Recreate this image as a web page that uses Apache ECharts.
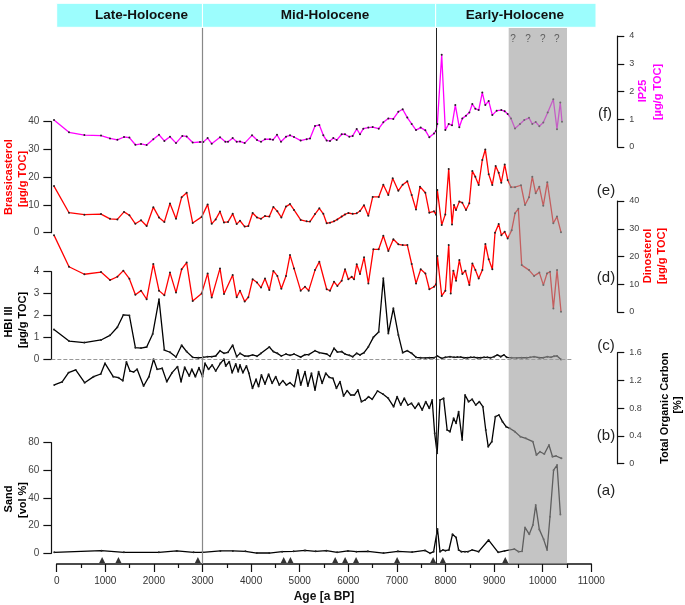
<!DOCTYPE html>
<html><head><meta charset="utf-8">
<script src="https://cdn.jsdelivr.net/npm/echarts@6/dist/echarts.min.js"></script>
<style>html,body{margin:0;padding:0;background:#fff}#c{width:685px;height:605px}</style>
</head><body><div id="c"></div>
<script>
// ---------- DATA (age [a BP], value) ----------
const periodNames = ['Late-Holocene', 'Mid-Holocene', 'Early-Holocene'];
const periodBounds = [0, 3000, 7800, 11100];
const uncertainRange = [9300, 10500];
const questionAges = [9390, 9700, 10000, 10290];
const datingAges = [935, 1270, 2905, 4670, 4810, 5730, 5935, 6160, 7005, 7745, 7945, 9230];
const xTicks = [0, 11000, 1000];

const ip25 = [[-56,0.97],[253,0.53],[569,0.43],[912,0.41],[1097,0.31],[1248,0.26],[1385,0.36],[1495,0.34],[1619,0.08],[1735,0.11],[1851,0.07],[1988,0.28],[2105,0.44],[2215,0.22],[2331,0.37],[2455,0.14],[2585,0.40],[2674,0.38],[2798,0.16],[2949,0.18],[3017,0.18],[3106,0.32],[3189,0.12],[3360,0.35],[3470,0.19],[3525,0.19],[3621,0.32],[3703,0.19],[3772,0.20],[3868,0.14],[4019,0.42],[4122,0.25],[4204,0.19],[4286,0.28],[4389,0.28],[4451,0.26],[4533,0.44],[4615,0.19],[4718,0.37],[4801,0.42],[4883,0.36],[5020,0.23],[5144,0.28],[5212,0.31],[5315,0.76],[5404,0.79],[5486,0.42],[5555,0.23],[5624,0.22],[5692,0.32],[5761,0.25],[5864,0.46],[5932,0.46],[6021,0.37],[6090,0.40],[6173,0.65],[6241,0.46],[6309,0.66],[6412,0.70],[6502,0.72],[6626,0.66],[6721,0.89],[6823,1.03],[6926,1.01],[7029,1.27],[7119,1.36],[7214,1.06],[7304,0.83],[7393,0.61],[7489,0.70],[7585,0.60],[7667,0.35],[7763,0.49],[7805,0.58],[7832,0.83],[7922,3.32],[7996,0.61],[8066,0.83],[8134,0.78],[8202,1.51],[8284,0.71],[8346,1.03],[8422,1.13],[8490,1.24],[8552,1.55],[8613,1.38],[8683,1.33],[8757,1.96],[8819,1.51],[8889,1.66],[8963,1.15],[9053,1.31],[9148,1.33],[9218,1.29],[9280,1.19],[9348,1.03],[9430,0.67],[9533,0.83],[9621,0.97],[9718,1.05],[9786,0.83],[9856,0.90],[9930,0.75],[10012,0.88],[10103,1.24],[10218,1.72],[10294,0.64],[10362,1.60],[10397,0.91]];

const brassicasterol = [[-56,16.8],[253,7.2],[569,6.5],[912,6.7],[1097,5.0],[1248,4.8],[1385,7.5],[1495,6.3],[1619,3.2],[1735,4.5],[1851,2.4],[1988,9.2],[2105,5.5],[2215,3.9],[2331,10.5],[2455,5.0],[2571,12.8],[2674,14.4],[2798,3.5],[2983,5.7],[3106,10.2],[3189,3.2],[3271,4.8],[3360,7.6],[3442,3.7],[3525,3.9],[3621,6.8],[3703,3.1],[3772,4.3],[3868,2.2],[3943,2.4],[4032,7.1],[4122,5.5],[4204,5.0],[4286,6.0],[4375,5.8],[4458,9.3],[4540,7.7],[4622,5.5],[4718,9.4],[4801,10.3],[4883,8.2],[5020,4.6],[5144,4.1],[5212,4.0],[5315,6.7],[5404,8.8],[5486,6.8],[5555,3.4],[5624,3.6],[5706,4.1],[5774,4.8],[5864,5.8],[5932,6.6],[6001,7.1],[6090,6.8],[6173,7.0],[6241,7.8],[6323,9.9],[6412,6.1],[6502,12.9],[6626,12.9],[6721,17.3],[6823,13.6],[6913,19.6],[7029,15.1],[7119,17.3],[7214,18.5],[7304,13.6],[7393,8.4],[7475,16.6],[7585,14.4],[7667,7.2],[7763,7.7],[7805,6.5],[7832,15.4],[7922,2.8],[7996,6.6],[8066,23.0],[8134,3.0],[8175,10.0],[8216,8.2],[8284,11.2],[8346,10.8],[8422,8.2],[8490,10.6],[8552,22.2],[8613,20.2],[8683,17.2],[8757,26.2],[8819,30.0],[8889,21.1],[8963,17.2],[9032,24.0],[9094,21.6],[9148,18.0],[9218,24.6],[9280,19.0],[9348,16.4],[9430,16.4],[9553,17.1],[9636,10.0],[9718,12.8],[9786,20.2],[9856,14.2],[9930,16.6],[10012,9.7],[10095,18.2],[10218,3.4],[10294,5.8],[10376,0.2]];

const dinosterol = [[-56,27.7],[253,16.3],[569,13.6],[912,14.4],[1097,11.5],[1248,12.7],[1371,14.9],[1495,12.0],[1619,6.2],[1735,7.7],[1851,4.6],[1988,17.3],[2105,7.7],[2215,6.0],[2331,14.2],[2455,7.0],[2571,15.4],[2674,17.8],[2798,4.0],[2983,6.7],[3106,13.9],[3189,5.2],[3360,15.7],[3442,6.5],[3621,13.3],[3703,5.3],[3772,7.7],[3868,3.8],[3943,5.3],[4032,11.8],[4122,10.6],[4204,8.8],[4286,12.1],[4375,7.9],[4458,14.8],[4540,13.0],[4622,8.4],[4718,13.0],[4801,20.5],[4883,15.7],[5020,7.7],[5109,9.1],[5185,7.7],[5315,15.1],[5404,18.1],[5555,8.2],[5624,7.7],[5706,10.9],[5775,9.4],[5864,11.3],[5933,15.4],[6001,11.8],[6070,12.7],[6118,11.8],[6173,17.2],[6241,13.7],[6324,19.7],[6413,10.3],[6516,22.6],[6625,22.6],[6721,27.5],[6824,22.0],[6927,26.2],[7030,24.4],[7119,24.1],[7215,24.1],[7304,17.3],[7394,10.3],[7490,15.4],[7586,13.9],[7668,8.2],[7764,9.1],[7805,10.0],[7833,20.2],[7922,5.8],[7997,7.7],[8066,24.1],[8107,6.7],[8162,14.9],[8217,11.3],[8285,18.7],[8347,13.7],[8409,14.9],[8491,9.7],[8553,17.5],[8615,15.1],[8683,12.1],[8759,15.1],[8820,24.5],[8889,19.0],[8964,15.4],[9019,28.6],[9095,31.7],[9150,27.7],[9218,28.9],[9280,26.5],[9362,29.5],[9431,35.6],[9499,37.2],[9568,16.9],[9719,15.1],[9822,13.0],[9931,14.2],[10014,9.7],[10089,13.9],[10151,14.5],[10220,1.3],[10295,15.1],[10377,0.1]];

const hbiIII = [[-56,1.37],[253,0.84],[569,0.77],[912,0.89],[1097,1.10],[1248,1.47],[1371,2.03],[1495,2.01],[1619,0.54],[1735,0.52],[1851,0.57],[1975,1.16],[2105,2.74],[2215,0.43],[2331,0.33],[2455,0.11],[2571,0.65],[2674,0.36],[2798,0.10],[2914,0.08],[3017,0.10],[3106,0.13],[3189,0.13],[3271,0.16],[3360,0.40],[3442,0.28],[3525,0.33],[3621,0.65],[3703,0.13],[3772,0.28],[3868,0.16],[3943,0.15],[4032,0.21],[4122,0.15],[4204,0.28],[4375,0.57],[4458,0.36],[4540,0.28],[4622,0.16],[4718,0.25],[4801,0.19],[4883,0.25],[5020,0.11],[5109,0.22],[5185,0.22],[5315,0.40],[5404,0.31],[5555,0.25],[5624,0.15],[5706,0.51],[5775,0.34],[5864,0.36],[5933,0.25],[6022,0.19],[6090,0.13],[6173,0.28],[6241,0.21],[6324,0.31],[6413,0.58],[6516,1.01],[6625,1.25],[6721,3.70],[6824,1.19],[6927,2.33],[7030,1.12],[7119,0.31],[7215,0.40],[7304,0.28],[7394,0.10],[7490,0.08],[7586,0.07],[7668,0.08],[7764,0.08],[7833,0.16],[7922,0.05],[7997,0.10],[8093,0.13],[8176,0.10],[8244,0.11],[8313,0.11],[8381,0.08],[8450,0.08],[8519,0.10],[8587,0.10],[8656,0.08],[8724,0.08],[8793,0.10],[8861,0.10],[8930,0.08],[8999,0.13],[9067,0.21],[9136,0.13],[9204,0.21],[9259,0.10],[9362,0.08],[9465,0.07],[9568,0.08],[9671,0.08],[9739,0.10],[9822,0.13],[9931,0.08],[10014,0.08],[10096,0.13],[10171,0.10],[10233,0.15],[10295,0.16],[10377,0.0]];

const toc = [[-50,1.135],[112,1.178],[244,1.312],[391,1.351],[575,1.168],[759,1.255],[906,1.293],[994,1.447],[1163,1.255],[1273,1.240],[1361,1.197],[1435,1.466],[1508,1.336],[1582,1.322],[1655,1.360],[1788,1.120],[1898,1.255],[1993,1.505],[2067,1.360],[2170,1.375],[2265,1.183],[2375,1.312],[2486,1.399],[2559,1.183],[2633,1.389],[2728,1.264],[2780,1.360],[2853,1.255],[2927,1.384],[3000,1.255],[3052,1.447],[3125,1.360],[3199,1.423],[3272,1.336],[3368,1.447],[3441,1.505],[3478,1.408],[3551,1.471],[3610,1.312],[3684,1.437],[3735,1.327],[3772,1.423],[3831,1.312],[3904,1.408],[3955,1.303],[4029,1.087],[4103,1.216],[4154,1.111],[4213,1.279],[4286,1.149],[4360,1.288],[4433,1.159],[4507,1.255],[4580,1.135],[4653,1.197],[4727,1.135],[4801,1.168],[4889,1.111],[4962,1.351],[5021,1.135],[5109,1.327],[5168,1.120],[5242,1.303],[5315,1.062],[5389,1.327],[5462,1.159],[5536,1.303],[5609,1.245],[5683,1.231],[5756,1.087],[5830,1.183],[5903,0.976],[5977,1.053],[6050,0.990],[6124,0.990],[6197,1.062],[6270,0.894],[6344,0.918],[6417,0.966],[6491,0.928],[6601,1.048],[6711,1.005],[6822,0.942],[6932,0.822],[7005,0.966],[7079,0.846],[7152,0.942],[7226,0.846],[7299,0.870],[7373,0.798],[7446,0.870],[7520,0.774],[7593,0.894],[7667,0.798],[7726,0.918],[7777,0.438],[7828,0.149],[7887,0.918],[7961,0.942],[8034,0.486],[8093,0.462],[8167,0.654],[8218,0.582],[8270,0.750],[8343,0.342],[8402,0.990],[8475,0.894],[8549,0.928],[8622,0.846],[8696,0.894],[8769,0.822],[8828,0.486],[8879,0.246],[8953,0.318],[9026,0.678],[9100,0.702],[9173,0.606],[9247,0.534],[9320,0.510],[9430,0.462],[9541,0.390],[9651,0.366],[9798,0.318],[9871,0.125],[9945,0.173],[10033,0.140],[10129,0.270],[10202,0.101],[10275,0.111],[10386,0.077]];

const sand = [[-50,0.7],[920,1.9],[1383,0.7],[2103,0.7],[2471,1.7],[2817,0.7],[3000,0.7],[3368,1.7],[3625,1.7],[3883,1.4],[4117,0.2],[4374,0.2],[4638,1.2],[4874,1.4],[5109,2.1],[5329,1.4],[5549,1.9],[5770,0.7],[5992,1.7],[6167,1.2],[6403,1.4],[6726,0.2],[7021,1.4],[7313,0.9],[7578,2.1],[7681,0.0],[7755,1.2],[7835,17.5],[7887,1.2],[7946,2.4],[7998,1.9],[8070,2.4],[8144,13.7],[8218,11.5],[8270,2.4],[8327,1.2],[8401,1.2],[8461,1.2],[8547,2.4],[8681,1.2],[8887,9.6],[9084,0.7],[9216,1.7],[9416,3.1],[9504,1.2],[9576,1.4],[9636,18.7],[9724,13.7],[9798,20.4],[9856,34.9],[9930,17.3],[10019,10.1],[10091,2.4],[10150,26.4],[10224,60.1],[10296,63.8],[10364,28.1]];

// ---------- LAYOUT ----------
const X0 = 56.7, PXY = 0.0486, DMIN = -110;
const dataLeft = X0 + DMIN * PXY;
const gridRight = 685 - (X0 + xTicks[1] * PXY);
const FONT = '"Liberation Sans", Arial, sans-serif';

const panels = [
  {name:'IP25', data: ip25, top:36, h:111, side:'right', min:0, max:4, step:1, color:'#ff00ff'},
  {name:'Brassicasterol', data: brassicasterol, top:121.7, h:111, side:'left', min:0, max:40, step:10, color:'#ff0000'},
  {name:'Dinosterol', data: dinosterol, top:201, h:111, side:'right', min:0, max:40, step:10, color:'#ff0000'},
  {name:'HBI III', data: hbiIII, top:271.7, h:87.8, side:'left', min:0, max:4, step:1, color:'#000000'},
  {name:'TOC', data: toc, top:352.7, h:111, side:'right', min:0, max:1.6, step:0.4, color:'#000000'},
  {name:'Sand', data: sand, top:442.7, h:110.6, side:'left', min:0, max:80, step:20, color:'#000000'}
];

const grid = [], xAxis = [], yAxis = [], series = [];
panels.forEach((p, i) => {
  grid.push({left: dataLeft, right: gridRight, top: p.top, height: p.h, outerBoundsMode:'none', containLabel:false});
  xAxis.push({gridIndex:i, type:'value', min:DMIN, max:xTicks[1], show:false});
  const right = p.side === 'right';
  yAxis.push({
    gridIndex:i, type:'value', position:p.side, offset: right ? 26 : 0,
    min:p.min, max:p.max, interval:p.step,
    axisLine:{show:true, onZero:false, lineStyle:{color:'#111', width:1.2}},
    axisTick:{show:true, inside:false, length: right ? 7 : 8, lineStyle:{color:'#111', width:1.2}},
    axisLabel:{show:true, fontSize: right ? 9 : 10, color:'#444', margin: 12, fontFamily: FONT,
      formatter: v => (p.step < 1 ? (v === 0 ? '0' : v.toFixed(1)) : String(v))},
    splitLine:{show:false}
  });
  const s = {
    name:p.name, type:'line', xAxisIndex:i, yAxisIndex:i, data:p.data,
    symbol:'circle', symbolSize:2, showSymbol:true, showAllSymbol:true,
    itemStyle:{color:'#222'}, lineStyle:{color:p.color, width:1.3},
    z:2, silent:true, animation:false
  };
  if (p.name === 'HBI III') {
    s.markLine = {silent:true, symbol:['none','none'], label:{show:false},
      lineStyle:{type:'dashed', color:'#999', width:1},
      data:[[{coord:[DMIN,0]},{coord:[10600,0]}]]};
  }
  series.push(s);
});

// base grid (x axis, dating markers, band, dividers)
const BI = panels.length;
grid.push({left:X0, right:gridRight, top:28, bottom:41, outerBoundsMode:'none', containLabel:false});
xAxis.push({gridIndex:BI, type:'value', min:xTicks[0], max:xTicks[1], interval:xTicks[2],
  axisLine:{show:true, onZero:false, lineStyle:{color:'#111', width:1.5}},
  axisTick:{show:true, inside:false, length:8, lineStyle:{color:'#111', width:1.2}},
  minorTick:{show:true, splitNumber:2, length:4, lineStyle:{color:'#111', width:1.2}},
  axisLabel:{fontSize:10, color:'#333', margin:12, fontFamily:FONT, formatter: v => String(v)},
  splitLine:{show:false}, minorSplitLine:{show:false},
  name:'Age [a BP]', nameLocation:'middle', nameGap:25,
  nameTextStyle:{fontSize:12, fontWeight:'bold', color:'#111', fontFamily:FONT}});
yAxis.push({gridIndex:BI, type:'value', min:0, max:1, show:false});

series.push({type:'scatter', xAxisIndex:BI, yAxisIndex:BI, data: datingAges.map(a => [a, 0]),
  symbol:'triangle', symbolSize:[6,6], symbolOffset:[0,-4], itemStyle:{color:'#000'},
  clip:false, z:3, silent:true, animation:false,
  markLine:{silent:true, symbol:['none','none'], label:{show:false},
    data:[{xAxis:periodBounds[1], lineStyle:{color:'#888', width:1.2, type:'solid'}},
          {xAxis:periodBounds[2], lineStyle:{color:'#222', width:1, type:'solid'}}]}});

series.push({type:'line', xAxisIndex:BI, yAxisIndex:BI, data:[], z:10, silent:true, animation:false,
  markArea:{silent:true, z:10, itemStyle:{color:'rgba(157,157,157,0.6)'},
    data:[[{xAxis:uncertainRange[0]},{xAxis:uncertainRange[1]}]]}});

series.push({type:'scatter', xAxisIndex:BI, yAxisIndex:BI, data: questionAges.map(a => [a, 1]),
  symbolSize:0, clip:false, z:12, silent:true, animation:false,
  label:{show:true, position:'inside', offset:[0,11], formatter:'?', fontSize:10, color:'#444', fontFamily:FONT}});

// banner grid
const NI = BI + 1;
grid.push({left:X0, right:685-596, top:3.3, height:24, outerBoundsMode:'none', containLabel:false});
xAxis.push({gridIndex:NI, type:'value', min:0, max:periodBounds[3], show:false});
yAxis.push({gridIndex:NI, type:'value', min:0, max:1, show:false});
const labelShift = [12, 6, -1];
series.push({type:'line', xAxisIndex:NI, yAxisIndex:NI, data:[], z:5, silent:true, animation:false,
  markArea:{silent:true,
    itemStyle:{color:'#9cfdfd', borderColor:'#ffffff', borderWidth:1},
    label:{show:true, position:'inside', fontSize:13.5, fontWeight:'bold', color:'#111', fontFamily:FONT},
    data: periodNames.map((n, i) => [
      {name:n, xAxis:periodBounds[i], label:{offset:[labelShift[i],0]}},
      {xAxis:periodBounds[i+1]}])}});

// ---------- TEXT ----------
function vtext(x, y, t, color) {
  return {type:'text', x:x, y:y, rotation:Math.PI/2, z:20,
    style:{text:t, fill:color, font:'bold 11px ' + FONT, textAlign:'center', textVerticalAlign:'middle', align:'center', verticalAlign:'middle'}};
}
function ptext(x, y, t) {
  return {type:'text', x:x, y:y, z:20,
    style:{text:t, fill:'#222', font:'15px ' + FONT, textAlign:'center', textVerticalAlign:'middle', align:'center', verticalAlign:'middle'}};
}
const graphic = [
  vtext(8.5, 177, 'Brassicasterol', '#ff0000'), vtext(22.5, 179, '[µg/g TOC]', '#ff0000'),
  vtext(8.5, 322, 'HBI III', '#000'), vtext(22.5, 320, '[µg/g TOC]', '#000'),
  vtext(8.5, 499, 'Sand', '#000'), vtext(22.5, 500, '[vol %]', '#000'),
  vtext(642.5, 91, 'IP25', '#ff00ff'), vtext(658, 92, '[µg/g TOC]', '#ff00ff'),
  vtext(648, 256, 'Dinosterol', '#ff0000'), vtext(661.5, 256, '[µg/g TOC]', '#ff0000'),
  vtext(665, 408, 'Total Organic Carbon', '#000'), vtext(677.5, 405, '[%]', '#000'),
  ptext(605, 114, '(f)'), ptext(606, 191, '(e)'), ptext(606, 278, '(d)'),
  ptext(606, 346, '(c)'), ptext(606, 436, '(b)'), ptext(606, 491, '(a)')
];

const chart = echarts.init(document.getElementById('c'), null, {renderer:'canvas'});
chart.setOption({
  animation:false, backgroundColor:'#ffffff',
  textStyle:{fontFamily:FONT},
  grid, xAxis, yAxis, series, graphic
});
</script></body></html>
